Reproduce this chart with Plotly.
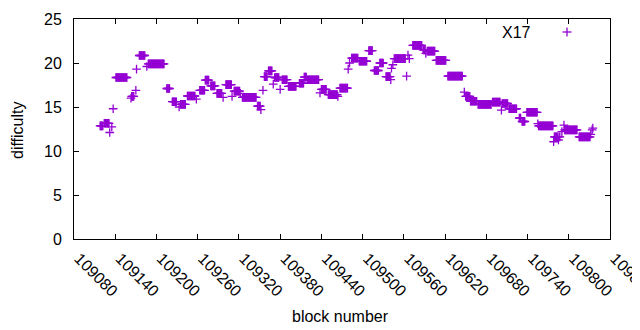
import plotly.graph_objects as go

# Runs of consecutive blocks at the same difficulty
run_first_block = [109118, 109124, 109132, 109135, 109137, 109141, 109163, 109164, 109170, 109171,
                   109175, 109186, 109188, 109215, 109223, 109233, 109235, 109245, 109258, 109263,
                   109271, 109279, 109288, 109297, 109301, 109310, 109313, 109322, 109325, 109347,
                   109352, 109355, 109357, 109363, 109370, 109372, 109380, 109383, 109392, 109408,
                   109415, 109420, 109438, 109440, 109450, 109464, 109467, 109479, 109481, 109484,
                   109495, 109509, 109517, 109525, 109534, 109541, 109542, 109544, 109546, 109564,
                   109566, 109568, 109573, 109588, 109592, 109594, 109607, 109624, 109648, 109650,
                   109657, 109668, 109689, 109702, 109703, 109713, 109728, 109732, 109739, 109755,
                   109756, 109778, 109779, 109785, 109786, 109790, 109793, 109794, 109815, 109832,
                   109834, 109835]
run_last_block = [109122, 109131, 109132, 109135, 109137, 109157, 109163, 109167, 109170, 109171,
                  109183, 109186, 109211, 109219, 109229, 109233, 109242, 109256, 109258, 109270,
                  109276, 109285, 109295, 109297, 109309, 109310, 109321, 109322, 109345, 109351,
                  109352, 109355, 109361, 109368, 109370, 109378, 109380, 109390, 109403, 109414,
                  109418, 109436, 109438, 109447, 109463, 109464, 109478, 109479, 109481, 109493,
                  109506, 109514, 109523, 109530, 109540, 109541, 109542, 109544, 109562, 109564,
                  109566, 109568, 109586, 109591, 109592, 109605, 109621, 109645, 109648, 109656,
                  109666, 109687, 109700, 109702, 109711, 109724, 109730, 109736, 109754, 109755,
                  109777, 109778, 109784, 109785, 109787, 109790, 109793, 109812, 109831, 109832,
                  109834, 109835]
run_difficulty = [12.85, 13.15, 12.1, 12.75, 14.8, 18.35, 16.0, 16.2, 16.9, 19.3,
                  20.85, 19.6, 19.9, 17.1, 15.6, 15.0, 15.3, 16.25, 15.9, 16.9,
                  18.05, 17.4, 16.55, 16.1, 17.55, 16.2, 16.8, 16.55, 16.1, 15.1,
                  14.7, 16.9, 18.45, 19.1, 17.6, 18.35, 17.0, 18.1, 17.35, 17.7,
                  18.4, 18.1, 16.6, 17.0, 16.4, 16.2, 17.15, 19.3, 20.0, 20.55,
                  20.2, 21.4, 19.15, 20.0, 18.45, 18.1, 19.4, 19.8, 20.5, 18.5,
                  20.9, 20.5, 22.0, 21.5, 21.1, 21.35, 20.3, 18.5, 16.7, 16.2,
                  15.65, 15.3, 15.55, 14.65, 15.4, 14.8, 13.75, 13.35, 14.4, 13.1,
                  12.85, 11.05, 11.6, 11.25, 11.6, 12.2, 12.95, 12.4, 11.6, 11.9,
                  12.4, 12.6]

x_tick_vals = [109080, 109140, 109200, 109260, 109320, 109380, 109440, 109500,
               109560, 109620, 109680, 109740, 109800, 109860]
x_tick_text = ["109080", "109140", "109200", "109260", "109320", "109380", "109440", "109500",
               "109560", "109620", "109680", "109740", "109800", "109860"]
y_tick_vals = [0, 5, 10, 15, 20, 25]
y_tick_text = ["0", "5", "10", "15", "20", "25"]
series_name = "X17"

blocks, difficulty = [], []
for first, last, d in zip(run_first_block, run_last_block, run_difficulty):
    for blk in range(first, last + 1):
        blocks.append(blk)
        difficulty.append(d)

COLOR = "#9400D3"
FONT = "Liberation Sans, Arial, sans-serif"

fig = go.Figure()
fig.add_trace(go.Scatter(
    x=blocks, y=difficulty, mode="markers", name=series_name, showlegend=False,
    cliponaxis=False,
    marker=dict(symbol="cross-thin", size=6.2, color=COLOR,
                line=dict(color=COLOR, width=1.3)),
))

axis_common = dict(showline=True, linecolor="black", linewidth=1, mirror="allticks",
                   ticks="inside", ticklen=5, tickcolor="black", tickwidth=1,
                   showgrid=False, zeroline=False, automargin=False,
                   tickfont=dict(family=FONT, size=16, color="black"))

fig.update_xaxes(range=[109080, 109860], tickmode="array", tickvals=x_tick_vals,
                 ticktext=x_tick_text, tickangle=45, ticklabelstandoff=3,
                 ticklabelshift=5, ticklabeloverflow="allow", **axis_common)
fig.update_yaxes(range=[0, 25], tickmode="array", tickvals=y_tick_vals,
                 ticktext=y_tick_text, ticklabelstandoff=8, **axis_common)

# legend: text + sample marker
lx, ly = (567 - 74) / 536, (239 - 32) / 220
dx, dy = 4.5 / 536, 4.5 / 220
fig.add_shape(type="line", xref="paper", yref="paper", x0=lx - dx, x1=lx + dx, y0=ly, y1=ly,
              line=dict(color=COLOR, width=1.3))
fig.add_shape(type="line", xref="paper", yref="paper", x0=lx, x1=lx, y0=ly - dy, y1=ly + dy,
              line=dict(color=COLOR, width=1.3))

fig.add_annotation(text=series_name, xref="paper", yref="paper", x=(533 - 74) / 536, y=ly,
                   xanchor="right", yanchor="middle", showarrow=False,
                   font=dict(family=FONT, size=16, color="black"))
fig.add_annotation(text="block number", xref="paper", yref="paper", x=(340 - 74) / 536,
                   y=(239 - 316) / 220, xanchor="center", yanchor="middle", showarrow=False,
                   font=dict(family=FONT, size=16, color="black"))
fig.add_annotation(text="difficulty", xref="paper", yref="paper", x=(17 - 74) / 536,
                   y=(239 - 130) / 220, xanchor="center", yanchor="middle", showarrow=False,
                   textangle=-90, font=dict(family=FONT, size=16, color="black"))

# the page body adds an 8px offset; margins compensate so the plot lands at 74..610 x 19..239
fig.update_layout(width=640, height=330, margin=dict(l=66, r=38, t=11, b=99),
                  plot_bgcolor="white", paper_bgcolor="white", showlegend=False)

fig.write_html("out.html")
